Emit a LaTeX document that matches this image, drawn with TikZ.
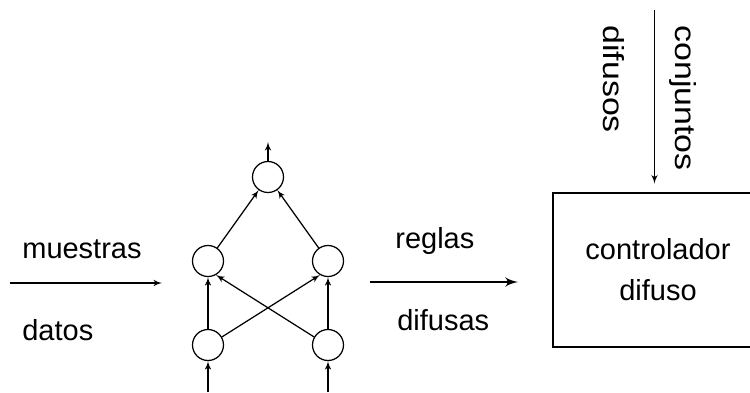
\documentclass[tikz,border=0pt]{standalone}
\usepackage{fontspec}
\setmainfont{Liberation Sans}
\usepackage{tikz}
\usetikzlibrary{arrows}

\begin{document}
\begin{tikzpicture}
        \tikzset{neuron/.style = {shape=circle,draw,line width=0.7pt,minimum size=0.62cm,inner sep=0pt}};
        \tikzset{edge/.style = {->,> = latex',line width=0.7pt}};
        \tikzset{bigedge/.style = {->,> = latex',line width=1.5pt}};
        \tikzset{label/.style = {font=\fontsize{16.5}{20}\selectfont,inner sep=0pt}};
        \useasboundingbox (0,0) rectangle (15,7.84);
        \clip (0,0) rectangle (15,7.84);
        % red neuronal
        \node[neuron] (o) at (5.36,4.30) {};
        \node[neuron] (h1) at (4.16,2.62) {};
        \node[neuron] (h2) at (6.56,2.62) {};
        \node[neuron] (b1) at (4.16,0.94) {};
        \node[neuron] (b2) at (6.56,0.94) {};
        \coordinate (i1) at (4.16,0);
        \coordinate (i2) at (6.56,0);
        \coordinate (out) at (5.36,5.0);
        \draw[edge] (i1) to (b1);
        \draw[edge] (i2) to (b2);
        \draw[edge] (b1) to (h1);
        \draw[edge] (b2) to (h2);
        \draw[edge] (b1.30) to (h2.240);
        \draw[edge] (b2.150) to (h1.300);
        \draw[edge] (h1) to (o);
        \draw[edge] (h2) to (o);
        \draw[edge] (o) to (out);
        % entrada
        \coordinate (l0) at (0.2,2.18);
        \coordinate (l1) at (3.24,2.18);
        \draw[edge] (l0) to (l1);
        \node[label,anchor=base west] (muestras) at (0.44,2.68) {muestras};
        \node[label,anchor=base west] (datos) at (0.44,1.04) {datos};
        % reglas
        \coordinate (r0) at (7.4,2.2);
        \coordinate (r1) at (10.36,2.2);
        \draw[bigedge] (r0) to (r1);
        \node[label,anchor=base west] (reglas) at (7.9,2.88) {reglas};
        \node[label,anchor=base west] (difusas) at (7.94,1.24) {difusas};
        % controlador
        \node[label,draw,line width=1.6pt,align=center,minimum width=4.2cm,minimum height=3.08cm] (ctrl) at (13.16,2.44) {controlador\\[0.12cm]difuso};
        \coordinate (c0) at (13.09,7.64);
        \draw[edge,shorten >=0.16cm] (c0) to (c0 |- ctrl.north);
        \node[label,rotate=-90,anchor=base west] (conjuntos) at (13.5,7.34) {\scalebox{1.17}[1]{conjuntos}};
        \node[label,rotate=-90,anchor=base west] (difusos) at (12.06,7.34) {\scalebox{1.17}[1]{difusos}};
    \end{tikzpicture}
\end{document}
